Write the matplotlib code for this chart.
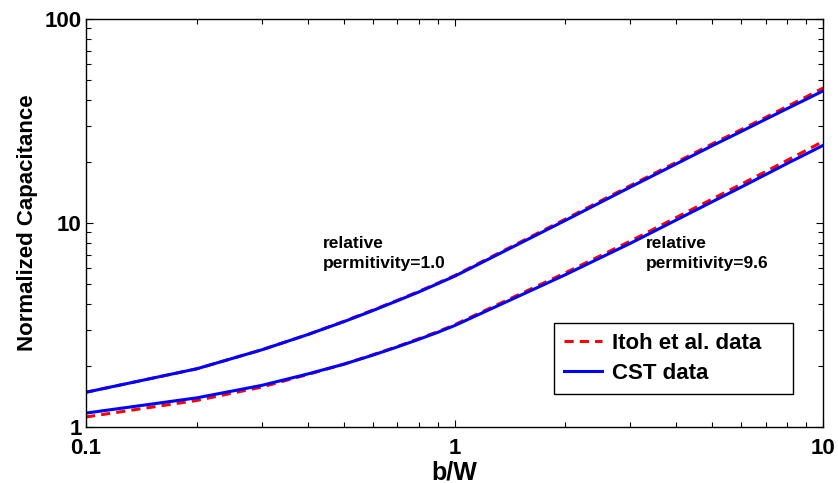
import matplotlib
matplotlib.use('Agg')
import matplotlib.pyplot as plt
from matplotlib.ticker import FixedLocator, FixedFormatter, LogLocator, NullFormatter

plt.rcParams['font.family'] = ['Liberation Sans', 'DejaVu Sans']
plt.rcParams['font.weight'] = 'bold'

# b/W sample points
bw = [0.1, 0.2, 0.3, 0.4, 0.5, 0.6, 0.7, 0.8, 0.9, 1,
      2, 3, 4, 5, 6, 7, 8, 9, 10]

# relative permitivity = 1.0
cst_er1 = [1.48, 1.93, 2.39, 2.84, 3.28, 3.72, 4.16, 4.59, 5.04, 5.48,
           10.3, 15.0, 19.5, 23.9, 28.1, 32.3, 36.4, 40.4, 44.4]
itoh_er1 = [1.48, 1.93, 2.39, 2.84, 3.29, 3.74, 4.18, 4.62, 5.07, 5.52,
            10.45, 15.25, 19.85, 24.4, 28.7, 33.0, 37.3, 41.5, 45.9]

# relative permitivity = 9.6
cst_er96 = [1.17, 1.39, 1.60, 1.82, 2.03, 2.25, 2.47, 2.69, 2.91, 3.14,
            5.58, 7.95, 10.35, 12.7, 15.0, 17.3, 19.6, 21.8, 24.0]
itoh_er96 = [1.12, 1.35, 1.57, 1.81, 2.03, 2.26, 2.48, 2.71, 2.93, 3.17,
             5.70, 8.15, 10.65, 13.1, 15.5, 17.9, 20.3, 22.7, 25.1]

fig = plt.figure(figsize=(8.38, 4.83), dpi=100)
ax = fig.add_axes([86 / 838, 56 / 483, 737 / 838, 408 / 483])

ax.plot(bw, itoh_er1, '--', color='red', lw=2.2, dashes=(3, 2), label='Itoh et al. data')
ax.plot(bw, cst_er1, '-', color='blue', lw=2.2, label='CST data')
ax.plot(bw, itoh_er96, '--', color='red', lw=2.2, dashes=(3, 2))
ax.plot(bw, cst_er96, '-', color='blue', lw=2.2)

ax.set_xscale('log')
ax.set_yscale('log')
ax.set_xlim(0.1, 10)
ax.set_ylim(1, 100)

ax.xaxis.set_major_locator(FixedLocator([0.1, 1, 10]))
ax.xaxis.set_major_formatter(FixedFormatter(['0.1', '1', '10']))
ax.yaxis.set_major_locator(FixedLocator([1, 10, 100]))
ax.yaxis.set_major_formatter(FixedFormatter(['1', '10', '100']))
ax.xaxis.set_minor_locator(LogLocator(base=10, subs=range(2, 10)))
ax.yaxis.set_minor_locator(LogLocator(base=10, subs=range(2, 10)))
ax.xaxis.set_minor_formatter(NullFormatter())
ax.yaxis.set_minor_formatter(NullFormatter())

ax.tick_params(which='both', direction='in', top=True, right=True, width=0.8)
ax.tick_params(which='major', length=5, labelsize=16)
ax.tick_params(which='minor', length=3.5)
ax.tick_params(axis='x', pad=8)
ax.tick_params(axis='y', pad=3)
for s in ax.spines.values():
    s.set_linewidth(1.0)

ax.set_xlabel('b/W', fontsize=18, fontweight='bold', labelpad=1)
ax.set_ylabel('Normalized Capacitance', fontsize=16, fontweight='bold', labelpad=5)

ax.text(0.44, 8.6, 'relative\npermitivity=1.0', fontsize=12.5, fontweight='bold',
        ha='left', va='top', linespacing=1.35)
ax.text(3.3, 8.6, 'relative\npermitivity=9.6', fontsize=12.5, fontweight='bold',
        ha='left', va='top', linespacing=1.35)

leg = ax.legend(loc='lower left', bbox_to_anchor=(0.635, 0.081, 0.324, 0.181),
                mode='expand', borderaxespad=0, fontsize=16, handlelength=1.7,
                handletextpad=0.45, labelspacing=0.4, borderpad=0.45,
                fancybox=False, edgecolor='black', framealpha=1)
leg.get_frame().set_linewidth(1.0)

fig.savefig('out.png', dpi=100)
